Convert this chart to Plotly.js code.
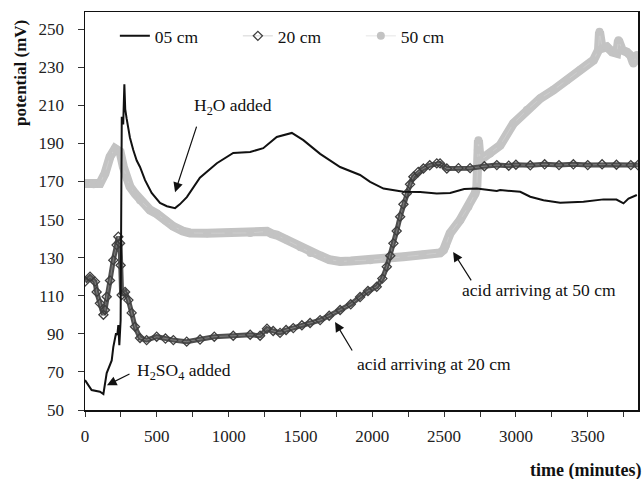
<!DOCTYPE html>
<html>
<head>
<meta charset="utf-8">
<script src="https://cdn.plot.ly/plotly-3.0.1.min.js"></script>
<style>html,body{margin:0;padding:0;background:#fff;}#chart{width:644px;height:479px;}</style>
</head>
<body>
<div id="chart"></div>
<script>
// 05 cm series (time in minutes, potential in mV)
var x05 = [0,46,104,128,151,186,197,216,225,232,239,248,256,266,274,280,290,300,313,336,360,383,418,464,522,570,627,660,709,800,918,1032,1150,1241,1335,1440,1520,1637,1776,1915,1985,2078,2217,2333,2449,2542,2640,2728,2867,2890,3030,3100,3192,3308,3470,3610,3700,3749,3784,3842];
var y05 = [65.7,60.5,59.6,58.4,69.4,76,83,90.3,89.4,94.6,84,97,204,200,221,208,203,198,193,186.5,181,177.6,170.7,164,158.7,157,156,158,161.8,172,179.6,185,185.5,187.5,193.4,195.5,191.7,184.5,177.6,173.4,169.8,166.3,164.6,164.5,163.7,164,166,166.3,165,165.5,164.6,162,160.2,158.8,159.4,160.6,160.5,158.5,161,162.9];

// 20 cm series
var x20 = [0,35,70,81,104,128,139,151,174,197,220,232,244,248,255,279,302,325,348,383,429,499,560,615,708,801,900,1032,1150,1219,1267,1310,1358,1400,1450,1510,1567,1637,1700,1776,1850,1915,1970,2031,2070,2101,2125,2147,2170,2194,2217,2240,2263,2286,2320,2356,2400,2449,2472,2519,2600,2681,2780,2867,2950,3000,3100,3200,3300,3400,3500,3600,3700,3800,3849];
var y20 = [117.4,120,117.4,112,106,100,102.5,109.5,118,128.7,136.6,141,137.6,126,110.4,112,107.7,101,93.7,87.8,86.7,88.5,87.5,86.7,85.9,87,88.5,89,89.5,89,92.7,91.5,90.5,92,93,94.5,95.7,97.2,99.5,102.5,105.5,109.3,112.5,114.7,119,125.2,131,137.5,144,151.5,158,163.7,168.5,172.5,175,176.8,178.5,179.5,179.5,176.8,177,177,178,178.6,178.3,178.8,178.5,179,178.6,179,178.6,179,178.8,178.6,178.6];

// 50 cm series
var x50 = [0,60,104,139,174,209,244,267,290,313,350,383,453,501,560,613,680,731,850,1000,1150,1267,1300,1335,1400,1500,1570,1637,1700,1776,1850,1985,2100,2217,2350,2472,2496,2510,2542,2611,2669,2716,2728,2735,2739,2751,2820,2890,2983,3076,3169,3261,3354,3447,3540,3575,3582,3600,3633,3670,3702,3714,3740,3772,3800,3818,3842];
var y50 = [169,168.5,169,174.2,183,187.3,185.6,177.7,172,167.3,163.5,160.2,155,153,149.5,146.5,144,143,142.8,143,143,143.8,142.5,141.9,139.5,135.5,132.5,131,129,128,128.3,128.7,129.5,130.5,131.5,132.5,134,136,142.8,149.7,156.7,163.7,167.2,186.5,191.7,181.2,184.7,189,200.5,207.5,213.6,218,223.2,228.5,233.7,239,248.6,240,240.7,238,237.3,244.2,239,238,236,232,236.4];

var seriesNames = ['05 cm','20 cm','50 cm'];
var xTickVals = [0,250,500,750,1000,1250,1500,1750,2000,2250,2500,2750,3000,3250,3500,3750];
var xTickText = ['0','','500','','1000','','1500','','2000','','2500','','3000','','3500',''];
var yTickVals = [50,70,90,110,130,150,170,190,210,230,250];

var serif = 'Liberation Serif, Times New Roman, serif';

var traces = [
  {x: x50, y: y50, mode: 'lines', line: {color: '#c3c3c3', width: 9}, showlegend: false, hoverinfo: 'skip'},
  {x: x50, y: y50, mode: 'lines+markers', name: seriesNames[2], line: {color: '#d4d4d4', width: 0.6},
   marker: {symbol: 'circle', size: 8, color: '#c3c3c3'}},
  {x: x20, y: y20, mode: 'lines', line: {color: '#4f4f4f', width: 5}, showlegend: false, hoverinfo: 'skip'},
  {x: x20, y: y20, mode: 'lines+markers', name: seriesNames[1], line: {color: '#aaa', width: 0.5},
   marker: {symbol: 'diamond-open', size: 7, color: '#3e3e3e', line: {width: 1.3}}},
  {x: x05, y: y05, mode: 'lines', name: seriesNames[0], line: {color: '#111', width: 2}}
];

var annFont = {family: serif, size: 17.5, color: '#111'};
function arrow(x, y, ax, ay) {
  return {x: x, y: y, xref: 'x', yref: 'y', text: '', showarrow: true, ax: ax, ay: ay,
          arrowhead: 2, arrowsize: 1.6, arrowwidth: 1.2, arrowcolor: '#111', standoff: 0};
}

var layout = {
  width: 644, height: 479,
  margin: {l: 85, r: 6, t: 12, b: 69},
  paper_bgcolor: '#fff', plot_bgcolor: '#fff',
  font: {family: serif, size: 17, color: '#222'},
  showlegend: true,
  legend: {orientation: 'h', x: 0.054, y: 0.985, xanchor: 'left', yanchor: 'top',
           traceorder: 'reversed', entrywidth: 78, entrywidthmode: 'pixels',
           font: {family: serif, size: 17.5, color: '#111'}, bgcolor: 'rgba(0,0,0,0)'},
  xaxis: {range: [0, 3850], tickmode: 'array', tickvals: xTickVals, ticktext: xTickText,
          ticks: 'outside', ticklen: 5, tickcolor: '#333', showgrid: false, zeroline: false,
          showline: true, linecolor: '#111', linewidth: 1.5, mirror: true,
          tickfont: {family: serif, size: 17, color: '#222'}, ticklabelstandoff: 5},
  yaxis: {range: [50, 259], tickmode: 'array', tickvals: yTickVals,
          ticks: 'outside', ticklen: 6, tickcolor: '#333', showgrid: false, zeroline: false,
          showline: true, linecolor: '#111', linewidth: 1.5, mirror: true,
          tickfont: {family: serif, size: 17, color: '#222'}, ticklabelstandoff: 10},
  annotations: [
    arrow(627, 164.4, 22, -67),
    arrow(153, 63, 24, -12),
    arrow(1741, 96.2, 18, 30),
    arrow(2563, 133, 19, 30),
    {x: 1031, y: 209.6, xref: 'x', yref: 'y', text: 'H<sub>2</sub>O added', showarrow: false, xanchor: 'center', yanchor: 'middle', font: annFont},
    {x: 348, y: 70, xref: 'x', yref: 'y', text: 'H<sub>2</sub>SO<sub>4</sub> added', showarrow: false, xanchor: 'left', yanchor: 'middle', font: annFont},
    {x: 1880, y: 74.1, xref: 'x', yref: 'y', text: 'acid arriving at 20 cm', showarrow: false, xanchor: 'left', yanchor: 'middle', font: annFont},
    {x: 2611, y: 113, xref: 'x', yref: 'y', text: 'acid arriving at 50 cm', showarrow: false, xanchor: 'left', yanchor: 'middle', font: annFont},
    {x: 643, y: 470, xref: 'paper', yref: 'paper', text: '<b>time (minutes)</b>', showarrow: false,
     xanchor: 'right', yanchor: 'middle', font: {family: serif, size: 18, color: '#111'}},
    {x: 20, y: 73, xref: 'paper', yref: 'paper', text: '<b>potential (mV)</b>', showarrow: false,
     textangle: -90, xanchor: 'center', yanchor: 'middle', font: {family: serif, size: 17, color: '#111'}}
  ]
};

// convert pixel-positioned axis-title annotations to paper coords
(function(){
  var pw = 644 - 85 - 6, ph = 479 - 12 - 69;
  layout.annotations.forEach(function(a){
    if (a.xref === 'paper') {
      a.x = (a.x - 85) / pw;
      a.y = (479 - 69 - a.y) / ph;
    }
  });
})();

Plotly.newPlot('chart', traces, layout, {displayModeBar: false, staticPlot: true});
</script>
</body>
</html>
